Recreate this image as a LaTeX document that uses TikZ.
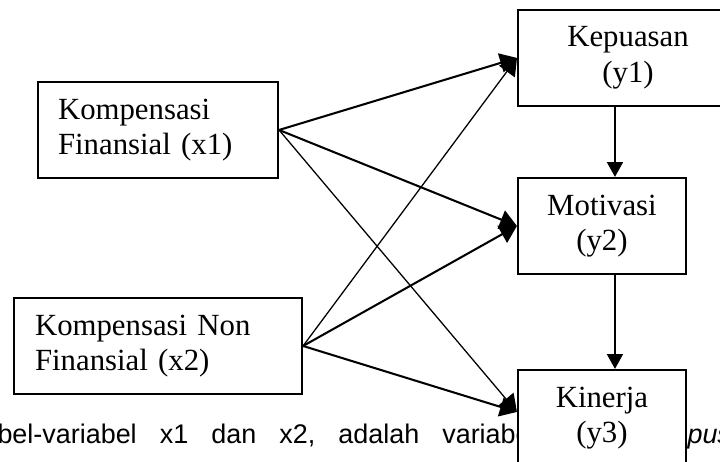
\documentclass[tikz,border=0pt]{standalone}
\usepackage{fontspec}
\setmainfont{Liberation Serif}
\setsansfont{Liberation Sans}
\usetikzlibrary{arrows.meta,calc}

\begin{document}
\begin{tikzpicture}[
 every node/.style={font=\fontsize{12}{13.8}\selectfont},
 varbox/.style={draw,fill=white,line width=.8pt,minimum height=1.315cm,inner sep=0pt,align=center},
 srcbox/.style={varbox,align=left},
 link/.style={line width=.8pt,-{Triangle[length=6.6pt,width=7.6pt]}},
 thin link/.style={link,line width=.5pt},
 drop/.style={line width=.8pt,-{Triangle[length=5.8pt,width=6.2pt]}},
 bodytext/.style={anchor=base west,inner sep=0pt,font=\fontsize{10.5}{12}\sffamily}]
 \path[use as bounding box] (0,0) rectangle (9.864,6.329);
 % page text running underneath the figure
 \node[bodytext] (para) at (-.041,.247) {\spaceskip=9pt bel-variabel x1 dan x2, adalah variabel};
 \node[bodytext,font=\fontsize{10.5}{12}\sffamily\itshape] (parb) at (9.412,.247) {pus};
 \node[srcbox,text width=2.74cm,inner xsep=.274cm] (x1) at (2.165,4.548) {Kompensasi\\Finansial (x1)};
 \node[srcbox,text width=3.37cm,inner xsep=.288cm] (x2) at (2.165,1.589) {Kompensasi Non\\Finansial (x2)};
 \node[varbox,minimum width=3.014cm] (y1) at (8.604,5.535) {Kepuasan\\(y1)};
 \node[varbox,minimum width=2.302cm] (y2) at (8.247,3.233) {Motivasi\\(y2)};
 \node[varbox,minimum width=2.302cm] (y3) at (8.247,.603) {Kinerja\\(y3)};
 \draw[link] (x1.east) -- (y1.west);
 \draw[link] (x1.east) -- (y2.west);
 \draw[thin link] (x1.east) -- ($(y3.west)+(0,.082)$);
 \draw[thin link] (x2.east) -- (y1.west);
 \draw[link] (x2.east) -- (y2.west);
 \draw[link] (x2.east) -- ($(y3.west)+(0,.082)$);
 % the chain y1 -> y2 -> y3 sits a little right of the box centres
 \draw[drop] ($(y1.south -| y2.north)+(.178,0)$) -- ($(y2.north)+(.178,0)$);
 \draw[drop] ($(y2.south)+(.178,0)$) -- ($(y3.north)+(.178,0)$);
\end{tikzpicture}
\end{document}
